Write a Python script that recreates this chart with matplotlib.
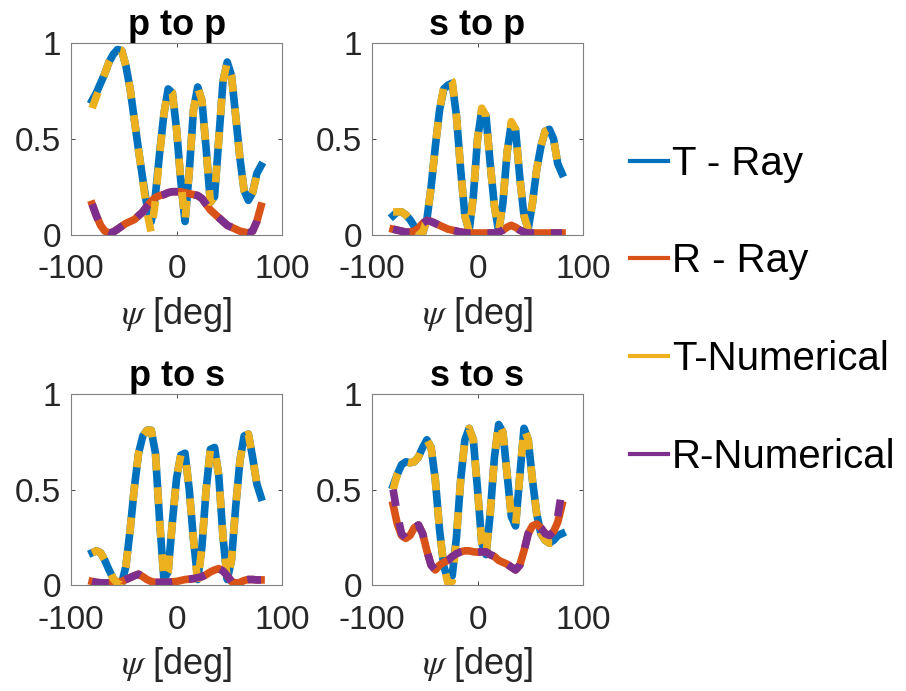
import matplotlib.pyplot as plt
from matplotlib.lines import Line2D

plt.rcParams["font.family"] = ["Liberation Sans", "DejaVu Sans"]
plt.rcParams["mathtext.fontset"] = "stix"
plt.rcParams["axes.unicode_minus"] = False

# incidence angle grid (deg)
psi = list(range(-80, 81, 4))

# p to p
pp_t_ray = [0.70, 0.74, 0.79, 0.84, 0.90, 0.94, 0.965, 0.96, 0.88, 0.76,
            0.60, 0.44, 0.29, 0.15, 0.07, 0.21, 0.43, 0.63, 0.76, 0.74,
            0.55, 0.28, 0.07, 0.33, 0.65, 0.77, 0.70, 0.45, 0.17, 0.20,
            0.50, 0.80, 0.90, 0.83, 0.62, 0.40, 0.23, 0.18, 0.22, 0.32, 0.36]
pp_t_num = [0.66, 0.72, 0.78, 0.84, 0.90, 0.94, 0.965, 0.96, 0.88, 0.76,
            0.60, 0.44, 0.28, 0.12, 0.01, 0.18, 0.42, 0.63, 0.76, 0.74,
            0.55, 0.28, 0.07, 0.33, 0.65, 0.77, 0.70, 0.45, 0.17, 0.20,
            0.50, 0.80, 0.90, 0.83, 0.62, 0.40, 0.23, 0.18, 0.22, 0.31, 0.34]
pp_r_ray = [0.16, 0.10, 0.05, 0.02, 0.01, 0.015, 0.03, 0.045, 0.06, 0.07,
            0.08, 0.10, 0.12, 0.15, 0.175, 0.195, 0.205, 0.21, 0.22, 0.225,
            0.225, 0.225, 0.22, 0.215, 0.21, 0.205, 0.19, 0.16, 0.13, 0.11,
            0.09, 0.07, 0.05, 0.04, 0.03, 0.02, 0.015, 0.01, 0.02, 0.07, 0.15]
pp_r_num = [0.16, 0.10, 0.05, 0.02, 0.01, 0.015, 0.03, 0.045, 0.06, 0.07,
            0.08, 0.10, 0.12, 0.15, 0.175, 0.195, 0.205, 0.21, 0.22, 0.225,
            0.225, 0.225, 0.22, 0.215, 0.21, 0.205, 0.19, 0.16, 0.13, 0.11,
            0.09, 0.07, 0.05, 0.04, 0.03, 0.02, 0.015, 0.01, 0.02, 0.07, 0.15]

# s to p
sp_t_ray = [0.10, 0.12, 0.12, 0.105, 0.08, 0.045, 0.02, 0.01, 0.08, 0.25,
            0.46, 0.65, 0.76, 0.78, 0.79, 0.62, 0.34, 0.10, 0.02, 0.20,
            0.50, 0.65, 0.62, 0.37, 0.15, 0.02, 0.165, 0.43, 0.58, 0.55,
            0.30, 0.10, 0.03, 0.165, 0.34, 0.46, 0.54, 0.55, 0.50, 0.37, 0.32]
sp_t_num = [0.12, 0.12, 0.12, 0.105, 0.08, 0.045, 0.02, 0.01, 0.08, 0.25,
            0.46, 0.65, 0.77, 0.82, 0.80, 0.62, 0.34, 0.10, 0.02, 0.20,
            0.50, 0.66, 0.62, 0.37, 0.15, 0.02, 0.165, 0.43, 0.59, 0.55,
            0.30, 0.10, 0.03, 0.165, 0.34, 0.46, 0.54, 0.55, 0.50, 0.37, 0.32]
sp_r_ray = [0.03, 0.025, 0.02, 0.015, 0.015, 0.02, 0.035, 0.06, 0.075, 0.07,
            0.06, 0.05, 0.04, 0.03, 0.025, 0.02, 0.015, 0.012, 0.01, 0.01,
            0.01, 0.01, 0.01, 0.01, 0.01, 0.015, 0.025, 0.04, 0.05, 0.04,
            0.025, 0.015, 0.01, 0.01, 0.01, 0.01, 0.01, 0.01, 0.01, 0.01, 0.01]
sp_r_num = [0.03, 0.025, 0.02, 0.015, 0.015, 0.02, 0.035, 0.06, 0.075, 0.07,
            0.06, 0.05, 0.04, 0.03, 0.025, 0.02, 0.015, 0.012, 0.01, 0.01,
            0.01, 0.01, 0.01, 0.01, 0.01, 0.015, 0.025, 0.04, 0.05, 0.04,
            0.025, 0.015, 0.01, 0.01, 0.01, 0.01, 0.01, 0.01, 0.01, 0.01, 0.01]

# p to s
ps_t_ray = [0.17, 0.18, 0.17, 0.13, 0.08, 0.035, 0.01, 0.01, 0.10, 0.29,
            0.51, 0.69, 0.78, 0.81, 0.81, 0.69, 0.33, 0.03, 0.07, 0.33,
            0.56, 0.68, 0.69, 0.50, 0.24, 0.03, 0.20, 0.50, 0.71, 0.72,
            0.57, 0.25, 0.03, 0.13, 0.41, 0.65, 0.78, 0.79, 0.67, 0.53, 0.46]
ps_t_num = [0.17, 0.18, 0.17, 0.13, 0.08, 0.035, 0.01, 0.0, 0.10, 0.29,
            0.51, 0.69, 0.78, 0.81, 0.81, 0.69, 0.33, 0.03, 0.07, 0.33,
            0.56, 0.68, 0.69, 0.50, 0.24, 0.01, 0.20, 0.50, 0.71, 0.72,
            0.57, 0.25, 0.03, 0.13, 0.41, 0.65, 0.78, 0.79, 0.67, 0.53, 0.46]
ps_r_ray = [0.02, 0.015, 0.013, 0.012, 0.012, 0.012, 0.015, 0.02, 0.03, 0.04,
            0.05, 0.058, 0.045, 0.03, 0.02, 0.015, 0.015, 0.015, 0.015, 0.018,
            0.02, 0.025, 0.03, 0.032, 0.035, 0.04, 0.045, 0.055, 0.07, 0.08,
            0.087, 0.075, 0.05, 0.02, 0.012, 0.015, 0.025, 0.03, 0.03, 0.028, 0.028]
ps_r_num = [0.02, 0.015, 0.013, 0.012, 0.012, 0.012, 0.015, 0.02, 0.03, 0.04,
            0.05, 0.058, 0.045, 0.03, 0.02, 0.015, 0.015, 0.015, 0.015, 0.018,
            0.02, 0.025, 0.03, 0.032, 0.035, 0.04, 0.045, 0.055, 0.07, 0.08,
            0.087, 0.075, 0.05, 0.02, 0.012, 0.015, 0.025, 0.03, 0.03, 0.028, 0.028]

# s to s
ss_t_ray = [0.52, 0.58, 0.63, 0.645, 0.64, 0.645, 0.67, 0.72, 0.76, 0.72,
            0.55, 0.29, 0.10, 0.03, 0.05, 0.25, 0.55, 0.76, 0.82, 0.76,
            0.50, 0.22, 0.16, 0.375, 0.67, 0.84, 0.80, 0.58, 0.36, 0.31,
            0.57, 0.82, 0.76, 0.55, 0.375, 0.27, 0.235, 0.22, 0.235, 0.26, 0.27]
ss_t_num = [0.50, 0.58, 0.63, 0.645, 0.64, 0.645, 0.67, 0.72, 0.76, 0.72,
            0.55, 0.29, 0.10, 0.01, 0.02, 0.25, 0.55, 0.76, 0.82, 0.76,
            0.50, 0.22, 0.16, 0.375, 0.67, 0.85, 0.80, 0.58, 0.36, 0.31,
            0.57, 0.82, 0.76, 0.55, 0.375, 0.27, 0.235, 0.22, 0.22, 0.23, 0.24]
ss_r_ray = [0.42, 0.32, 0.26, 0.245, 0.26, 0.30, 0.315, 0.27, 0.18, 0.105,
            0.08, 0.105, 0.12, 0.13, 0.15, 0.165, 0.175, 0.18, 0.18, 0.175,
            0.173, 0.175, 0.175, 0.16, 0.15, 0.13, 0.12, 0.11, 0.095, 0.08,
            0.105, 0.18, 0.27, 0.31, 0.32, 0.30, 0.27, 0.26, 0.28, 0.33, 0.42]
ss_r_num = [0.50, 0.37, 0.27, 0.245, 0.26, 0.30, 0.315, 0.27, 0.18, 0.105,
            0.08, 0.105, 0.12, 0.13, 0.15, 0.165, 0.175, 0.18, 0.18, 0.175,
            0.173, 0.175, 0.175, 0.16, 0.15, 0.13, 0.12, 0.11, 0.095, 0.08,
            0.105, 0.18, 0.27, 0.31, 0.32, 0.30, 0.27, 0.26, 0.28, 0.36, 0.50]

titles = ["p to p", "s to p", "p to s", "s to s"]
t_ray = [pp_t_ray, sp_t_ray, ps_t_ray, ss_t_ray]
r_ray = [pp_r_ray, sp_r_ray, ps_r_ray, ss_r_ray]
t_num = [pp_t_num, sp_t_num, ps_t_num, ss_t_num]
r_num = [pp_r_num, sp_r_num, ps_r_num, ss_r_num]
labels = ["T - Ray", "R - Ray", "T-Numerical", "R-Numerical"]

blue, orange, yellow, purple = "#0072BD", "#D95319", "#EDB120", "#7E2F8E"

fig = plt.figure(figsize=(9.06, 6.91), dpi=100)
boxes = [[0.0784, 0.660, 0.233, 0.278], [0.4106, 0.660, 0.233, 0.278],
         [0.0784, 0.153, 0.233, 0.277], [0.4106, 0.153, 0.233, 0.277]]

lw = 5.5
for i in range(4):
    ax = fig.add_axes(boxes[i])
    ax.plot(psi, t_ray[i], color=blue, lw=lw)
    ax.plot(psi, r_ray[i], color=orange, lw=lw)
    ax.plot(psi, t_num[i], color=yellow, lw=lw, linestyle=(0, (2.2, 2.2)))
    ax.plot(psi, r_num[i], color=purple, lw=lw, linestyle=(0, (2.2, 2.2)))
    ax.set_xlim(-100, 100)
    ax.set_ylim(0, 1)
    ax.set_xticks([-100, 0, 100])
    ax.set_xticklabels(["-100", "0", "100"])
    ax.set_yticks([0, 0.5, 1])
    ax.set_yticklabels(["0", "0.5", "1"])
    ax.tick_params(direction="in", length=3, width=0.6, color="#262626",
                   labelsize=24, labelcolor="#262626", top=True, right=True)
    ax.tick_params(axis="x", pad=14)
    ax.tick_params(axis="y", pad=7)
    for s in ax.spines.values():
        s.set_color("#808080")
        s.set_linewidth(0.8)
    ax.set_title(titles[i], fontsize=26, fontweight="bold", pad=6)
    ax.set_xlabel(r"$\psi$ [deg]", fontsize=26, color="#262626", labelpad=7)

handles = [Line2D([], [], color=c, lw=3) for c in (blue, orange, yellow, purple)]
fig.legend(handles, labels, loc="center left", bbox_to_anchor=(0.655, 0.551),
           frameon=False, fontsize=29, handlelength=0.95, handletextpad=0.1,
           labelspacing=1.48)

plt.savefig("out.png", dpi=100)
